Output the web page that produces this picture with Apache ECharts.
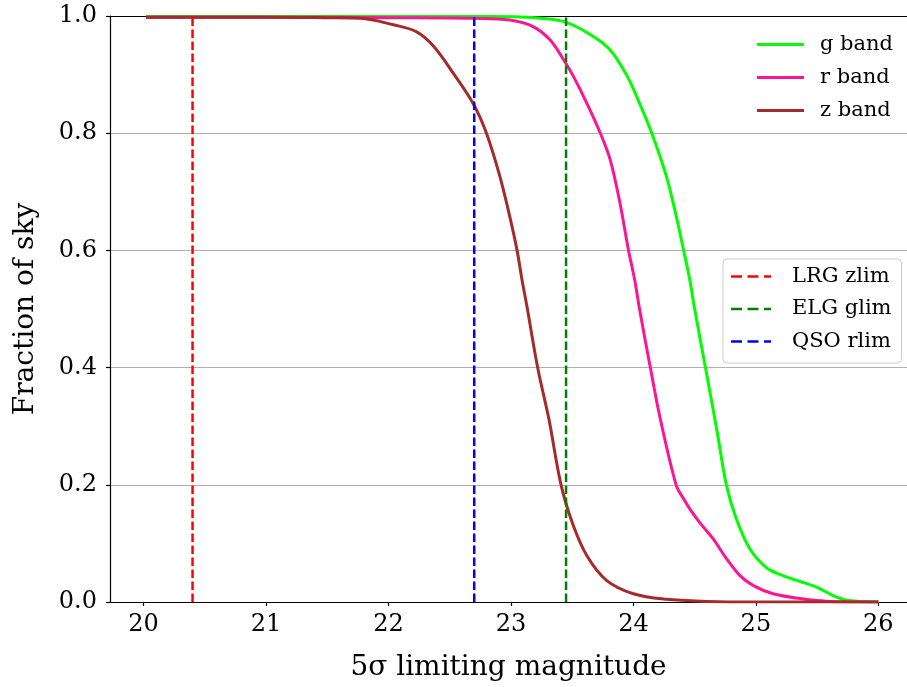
<!DOCTYPE html>
<html>
<head>
<meta charset="utf-8">
<script src="https://cdn.jsdelivr.net/npm/echarts@6/dist/echarts.min.js"></script>
<style>html,body{margin:0;padding:0;background:#fff}#c{width:907px;height:687px}</style>
</head>
<body>
<div id="c"></div>
<script>
// ---- data ----
const gBand = [[20.02,0.999],[21,0.999],[22,0.999],[22.8,0.999],[23.2,0.997],[23.44,0.99],[23.65,0.968],[23.81,0.942],[23.95,0.897],[24.05,0.851],[24.15,0.80],[24.27,0.726],[24.35,0.658],[24.41,0.60],[24.46,0.55],[24.50,0.50],[24.59,0.398],[24.68,0.295],[24.76,0.199],[24.84,0.142],[24.95,0.091],[25.09,0.058],[25.22,0.045],[25.36,0.035],[25.50,0.025],[25.63,0.011],[25.74,0.003],[25.85,0.001],[26.0,0.0]];
const rBand = [[20.02,0.998],[21,0.998],[22,0.997],[22.7,0.996],[22.99,0.993],[23.18,0.982],[23.32,0.959],[23.44,0.922],[23.51,0.897],[23.62,0.851],[23.73,0.80],[23.81,0.755],[23.89,0.681],[23.96,0.60],[24.01,0.55],[24.05,0.50],[24.14,0.398],[24.22,0.312],[24.35,0.199],[24.41,0.176],[24.46,0.159],[24.54,0.136],[24.65,0.108],[24.76,0.074],[24.87,0.045],[24.98,0.028],[25.14,0.014],[25.36,0.006],[25.6,0.001],[26.0,0.0]];
const zBand = [[20.02,0.998],[21,0.998],[21.5,0.997],[21.77,0.996],[22.04,0.985],[22.23,0.973],[22.37,0.948],[22.53,0.902],[22.69,0.851],[22.80,0.80],[22.91,0.726],[22.99,0.658],[23.05,0.60],[23.09,0.55],[23.13,0.505],[23.22,0.398],[23.31,0.312],[23.41,0.199],[23.51,0.130],[23.62,0.079],[23.78,0.037],[24.00,0.014],[24.27,0.0045],[24.6,0.001],[25,0.0],[26,0.0]];
const limitNames = ['LRG zlim','ELG glim','QSO rlim'];
const limitValues = [20.4, 23.45, 22.7];
const limitColors = ['#ff0000','#008000','#0000ff'];
const xTicks = [20,21,22,23,24,25,26];

const FONT = 'DejaVu Serif';
const chart = echarts.init(document.getElementById('c'), null, {renderer:'canvas'});

function curve(name, data, color){
  return {name, type:'line', data, showSymbol:false, symbol:'none', smooth:0.35,
    lineStyle:{color, width:3}, itemStyle:{color}, z:2, animation:false};
}
const series = [
  curve('g band', gBand, '#00ff00'),
  curve('r band', rBand, '#ff1493'),
  curve('z band', zBand, '#a52a2a')
];
limitNames.forEach((n,i) => {
  const x = limitValues[i];
  series.push({name:n, type:'line', data:[[x,0],[x,1]], symbol:'none', showSymbol:false,
    lineStyle:{color:limitColors[i], width:2.5, type:[8.5,3.5]}, itemStyle:{color:limitColors[i]}, z:3, animation:false});
});

const solidIcon = 'path://M0,0L47,0L47,3L0,3Z';
const dashIcon = 'path://M0,0L11,0L11,2.6L0,2.6Z M16.5,0L27.5,0L27.5,2.6L16.5,2.6Z M33,0L40,0L40,2.6L33,2.6Z';

const option = {
  animation:false,
  backgroundColor:'#ffffff',
  grid:{left:110, top:16, right:0, height:587.3, containLabel:false},
  xAxis:[{
    type:'value', min:19.726, max:26.234, position:'bottom',
    name:'5σ limiting magnitude', nameLocation:'middle', nameGap:52,
    nameTextStyle:{fontFamily:FONT, fontSize:28, color:'#000'},
    axisLine:{show:true, onZero:false, lineStyle:{color:'#000', width:1.2}},
    axisTick:{show:true, length:4, customValues:xTicks, lineStyle:{color:'#000', width:1.2}},
    axisLabel:{customValues:xTicks, fontFamily:FONT, fontSize:24, color:'#000', margin:11,
      formatter:v=>String(Math.round(v))},
    splitLine:{show:false}
  },{
    type:'value', min:19.726, max:26.234, position:'top',
    axisLine:{show:true, onZero:false, lineStyle:{color:'#000', width:1.2}},
    axisTick:{show:false}, axisLabel:{show:false}, splitLine:{show:false}
  }],
  yAxis:{
    type:'value', min:0, max:1, interval:0.2,
    name:'Fraction of sky', nameLocation:'middle', nameGap:70, nameRotate:90,
    nameTextStyle:{fontFamily:FONT, fontSize:28, color:'#000'},
    axisLine:{show:true, onZero:false, lineStyle:{color:'#000', width:1.2}},
    axisTick:{show:true, length:4, lineStyle:{color:'#000', width:1.2}},
    axisLabel:{fontFamily:FONT, fontSize:24, color:'#000', margin:13, formatter:v=>v.toFixed(1)},
    splitLine:{show:true, lineStyle:{color:'#b0b0b0', width:1.2}}
  },
  legend:[{
    id:'bands',
    data:[{name:'g band', icon:solidIcon},{name:'r band', icon:solidIcon},{name:'z band', icon:solidIcon}],
    orient:'vertical', left:757, top:34, padding:0,
    itemWidth:47, itemHeight:3, itemGap:12,
    textStyle:{fontFamily:FONT, fontSize:21, color:'#000', padding:[0,0,0,11], lineHeight:20},
    selectedMode:false
  },{
    id:'limits',
    data:limitNames.map(n=>({name:n, icon:dashIcon})),
    orient:'vertical', left:723, top:259,
    padding:[7,10,11,8], itemWidth:40, itemHeight:2.6, itemGap:11.5,
    backgroundColor:'rgba(255,255,255,0.8)', borderColor:'#cccccc', borderWidth:1, borderRadius:4,
    textStyle:{fontFamily:FONT, fontSize:21, color:'#000', padding:[0,0,0,16], lineHeight:20},
    selectedMode:false
  }],
  series
};
chart.setOption(option);
</script>
</body>
</html>
